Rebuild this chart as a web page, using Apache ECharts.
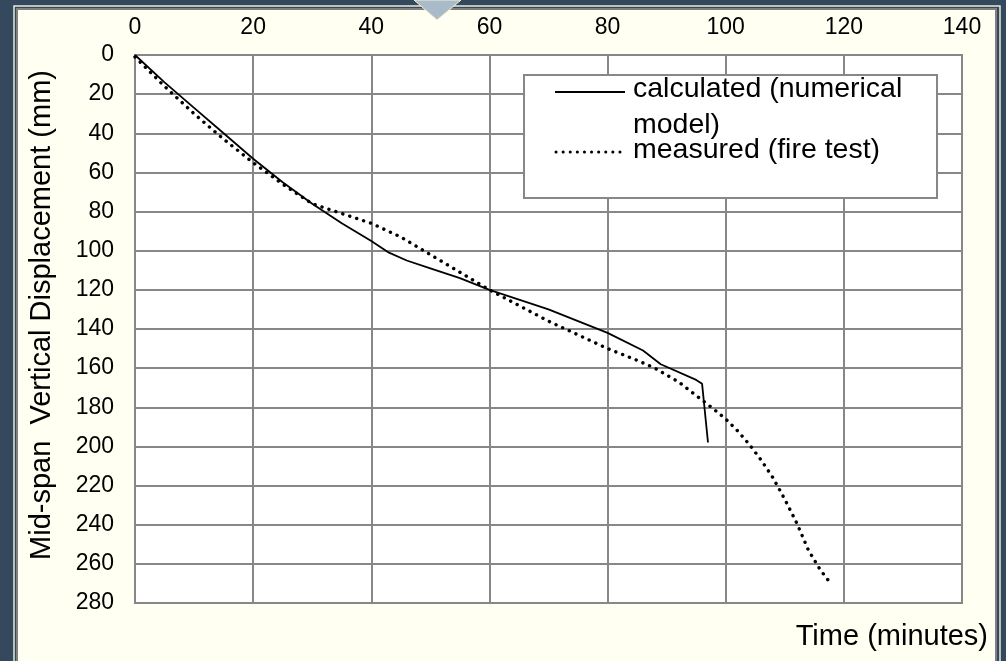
<!DOCTYPE html>
<html>
<head>
<meta charset="utf-8">
<script src="https://cdn.jsdelivr.net/npm/echarts@6/dist/echarts.min.js"></script>
<style>
  html, body { margin: 0; padding: 0; background: #34495e; }
  #chart { width: 1006px; height: 661px; }
</style>
</head>
<body>
<div id="chart"></div>
<script>
/* ---------- data ---------- */
const calcTime = [0, 5, 10, 15, 20, 25, 30, 35, 40, 43, 46, 50, 55, 60, 65, 70, 75, 80, 86, 89, 95, 96, 97];
const calcDisp = [0, 14, 27, 40, 53, 65, 76, 86, 95, 101, 105, 109, 114, 120, 125, 130, 136, 142, 151, 158, 166, 168, 198];

const measTime = [0, 5, 10, 15, 20, 25, 30, 35, 40, 45, 50, 55, 60, 65, 70, 75, 80, 85, 88, 92, 95, 98, 100, 102, 104, 106, 108, 110, 112, 114, 116, 117.5];
const measDisp = [1, 16, 30, 43, 55, 66, 76, 81, 86, 93, 102, 111, 120, 128, 136, 143, 150, 156, 160, 167, 174, 181, 186, 192, 199, 207, 216, 227, 239, 253, 263, 269];

const seriesNames = ['calculated (numerical model)', 'measured (fire test)'];
const xTitle = 'Time (minutes)';
const yTitle = 'Mid-span  Vertical Displacement (mm)';

const FONT = "'Liberation Sans', Arial, sans-serif";
const GRID_COLOR = '#878787';

const chart = echarts.init(document.getElementById('chart'));

chart.setOption({
  backgroundColor: '#34495e',
  animation: false,
  grid: {
    left: 135, right: 44, top: 55, bottom: 58,
    show: true,
    backgroundColor: '#ffffff',
    borderColor: GRID_COLOR,
    borderWidth: 2,
  },
  xAxis: {
    type: 'value',
    position: 'top',
    min: 0, max: 140, interval: 20,
    axisLine: { show: false },
    axisTick: { show: false },
    axisLabel: { color: '#000', fontSize: 23, fontFamily: FONT, margin: 16 },
    splitLine: { lineStyle: { color: GRID_COLOR, width: 2 } },
  },
  yAxis: {
    type: 'value',
    inverse: true,
    min: 0, max: 280, interval: 20,
    axisLine: { show: false },
    axisTick: { show: false },
    axisLabel: { color: '#000', fontSize: 23, fontFamily: FONT, margin: 21 },
    splitLine: { lineStyle: { color: GRID_COLOR, width: 2 } },
  },
  series: [
    {
      name: seriesNames[0],
      type: 'line',
      showSymbol: false,
      data: calcTime.map((t, i) => [t, calcDisp[i]]),
      lineStyle: { color: '#000', width: 1.8 },
      itemStyle: { color: '#000' },
      z: 3,
    },
    {
      name: seriesNames[1],
      type: 'line',
      showSymbol: false,
      data: measTime.map((t, i) => [t, measDisp[i]]),
      lineStyle: { color: '#000', width: 3.4, type: [0.1, 7.2], cap: 'round' },
      itemStyle: { color: '#000' },
      z: 4,
    },
  ],
  graphic: [
    // cream panel behind the chart
    { type: 'rect', z: -20, shape: { x: 14, y: 6, width: 986, height: 700 },
      style: { fill: 'none', stroke: '#e8ecd8', lineWidth: 1.5 } },
    { type: 'rect', z: -10, shape: { x: 17, y: 9, width: 979, height: 700 },
      style: { fill: '#fffff2', stroke: '#808080', lineWidth: 2 } },
    // little marker at the top edge
    { type: 'polygon', z: 50, shape: { points: [[414, 0], [461, 0], [437, 20]] },
      style: { fill: '#a9bbcb', stroke: '#f6f2c8', lineWidth: 1 } },
    // axis titles
    { type: 'text', z: 50, x: 988, y: 637,
      style: { text: xTitle, fill: '#000', font: '29px ' + FONT, textAlign: 'right', textVerticalAlign: 'middle' } },
    { type: 'text', z: 50, x: 42, y: 315, rotation: Math.PI / 2,
      style: { text: yTitle, fill: '#000', font: '29px ' + FONT, textAlign: 'center', textVerticalAlign: 'middle' } },
    // legend box
    { type: 'rect', z: 50, shape: { x: 524, y: 75, width: 413, height: 123 },
      style: { fill: '#ffffff', stroke: GRID_COLOR, lineWidth: 2 } },
    { type: 'line', z: 51, shape: { x1: 555, y1: 92, x2: 625, y2: 92 },
      style: { stroke: '#000', lineWidth: 1.8 } },
    { type: 'line', z: 51, shape: { x1: 556, y1: 152, x2: 625, y2: 152 },
      style: { stroke: '#000', lineWidth: 3, lineDash: [0.1, 7], lineCap: 'round' } },
    { type: 'text', z: 51, x: 633, y: 89,
      style: { text: 'calculated (numerical', fill: '#000', font: '28.5px ' + FONT, textAlign: 'left', textVerticalAlign: 'middle' } },
    { type: 'text', z: 51, x: 633, y: 125,
      style: { text: 'model)', fill: '#000', font: '28.5px ' + FONT, textAlign: 'left', textVerticalAlign: 'middle' } },
    { type: 'text', z: 51, x: 633, y: 150,
      style: { text: 'measured (fire test)', fill: '#000', font: '28.5px ' + FONT, textAlign: 'left', textVerticalAlign: 'middle' } },
  ],
});
</script>
</body>
</html>
